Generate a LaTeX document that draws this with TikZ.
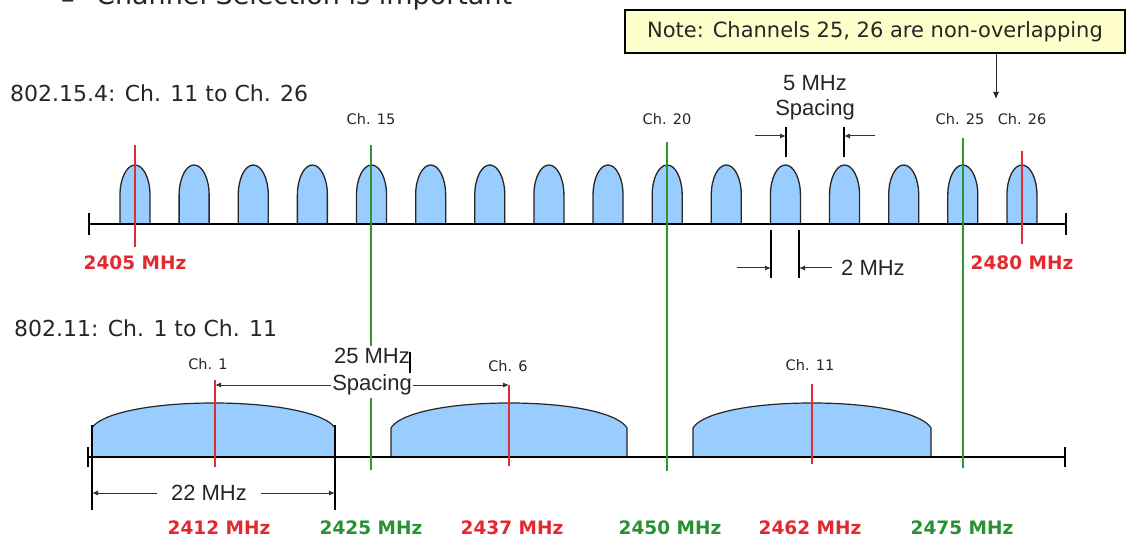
\documentclass[tikz,border=0pt]{standalone}
\usepackage{fontspec}
\setmainfont{DejaVu Sans}
\newfontfamily\libsans{Liberation Sans}
\usetikzlibrary{arrows.meta}
\definecolor{chred}{RGB}{222,45,55}
\definecolor{chgreen}{RGB}{45,150,50}
\definecolor{txred}{RGB}{228,40,48}
\definecolor{txgreen}{RGB}{40,145,50}
\definecolor{lobeblue}{RGB}{153,204,255}
\definecolor{notefill}{RGB}{255,255,204}
\begin{document}
\begin{tikzpicture}[x=1pt,y=-1pt,
  axisline/.style={line width=1.8pt,black},
  redline/.style={line width=1.8pt,chred},
  greenline/.style={line width=1.6pt,chgreen},
  bumpshape/.style={fill=lobeblue,draw=black!85,line width=1.3pt},
  lobeshape/.style={fill=lobeblue,draw=black!85,line width=1.2pt},
  dimline/.style={line width=1.3pt,black},
  dimarrow/.style={line width=1pt,black!80,-{Latex[length=6pt,width=5pt]}},
  dimboth/.style={line width=1pt,black!80,{Latex[length=6pt,width=5pt]}-{Latex[length=6pt,width=5pt]}},
  secttitle/.style={inner sep=0pt,anchor=west,text=black!85,font=\fontsize{22}{26}\selectfont},
  chlabel/.style={inner sep=0pt,text=black!85,font=\fontsize{14.5}{17}\selectfont},
  dimlabel/.style={inner sep=0pt,text=black!85,font=\libsans\fontsize{22}{27}\selectfont,align=center},
  mhzred/.style={inner sep=0pt,text=txred,font=\bfseries\fontsize{18.5}{22}\selectfont},
  mhzgreen/.style={inner sep=0pt,text=txgreen,font=\bfseries\fontsize{18.5}{22}\selectfont},
]
\useasboundingbox (0,0) rectangle (1133,540);
\fill[white] (0,0) rectangle (1133,540);

% cut-off heading
\node[anchor=base west,inner sep=0pt,text=black!85,font=\fontsize{27}{30}\selectfont] (dash) at (61,9) {\textendash};
\node[anchor=base west,inner sep=0pt,text=black!85,font=\fontsize{27}{30}\selectfont] (heading) at (96,5) {Channel Selection is important};

% section titles
\node[secttitle] (t154) at (10,93) {802.15.4: Ch. 11 to Ch. 26};
\node[secttitle] (t11) at (14,328) {802.11: Ch. 1 to Ch. 11};

% ---------- 802.15.4 ----------
\foreach \i in {0,...,15}{
  \pgfmathsetmacro\c{135+59.13*\i}
  \draw[bumpshape] ({\c-15},224) -- ({\c-15},195)
     .. controls ({\c-15},178.4) and ({\c-8.3},165) .. (\c,165)
     .. controls ({\c+8.3},165) and ({\c+15},178.4) .. ({\c+15},195)
     -- ({\c+15},224);
}
\coordinate (ta1) at (89,224);
\coordinate (ta2) at (1066,224);
\draw[axisline] (ta1) -- (ta2);
\draw[axisline] (89,213) -- (89,235);
\draw[axisline] (1066,213) -- (1066,235);

% ---------- 802.11 ----------
\foreach \l/\r in {92/335,391/627,693/931}{
  \pgfmathsetmacro\c{(\l+\r)/2}
  \draw[lobeshape] (\l,457) -- (\l,428)
     .. controls ({\l+8},414) and ({\c-65},403) .. (\c,403)
     .. controls ({\c+65},403) and ({\r-8},414) .. (\r,428)
     -- (\r,457);
}
\coordinate (ba1) at (88,457);
\coordinate (ba2) at (1065,457);
\draw[axisline] (ba1) -- (ba2);
\draw[axisline] (88,447) -- (88,467);
\draw[axisline] (1065,447) -- (1065,467);

% channel lines
\coordinate (c11t) at (135,145); \coordinate (c11b) at (135,247);
\coordinate (c26t) at (1022,151); \coordinate (c26b) at (1022,244);
\coordinate (c15t) at (371,145); \coordinate (c15b) at (371,470);
\coordinate (c20t) at (667,142); \coordinate (c20b) at (667,471);
\coordinate (c25t) at (963,138); \coordinate (c25b) at (963,468);
\coordinate (w1t) at (215,380); \coordinate (w1b) at (215,467);
\coordinate (w6t) at (509,385); \coordinate (w6b) at (509,466);
\coordinate (w11t) at (812,384); \coordinate (w11b) at (812,464);
\draw[redline] (c11t) -- (c11b);
\draw[redline] (c26t) -- (c26b);
\draw[greenline] (c15t) -- (c15b);
\draw[greenline] (c20t) -- (c20b);
\draw[greenline] (c25t) -- (c25b);
\draw[redline] (w1t) -- (w1b);
\draw[redline] (w6t) -- (w6b);
\draw[redline] (w11t) -- (w11b);

% channel labels
\node[chlabel] (l15) at (371,119) {Ch. 15};
\node[chlabel] (l20) at (667,119) {Ch. 20};
\node[chlabel] (l25) at (960,119) {Ch. 25};
\node[chlabel] (l26) at (1022,119) {Ch. 26};
\node[chlabel] (l1) at (208,364) {Ch. 1};
\node[chlabel] (l6) at (508,366) {Ch. 6};
\node[chlabel] (l11) at (810,365) {Ch. 11};

% frequency labels
\node[mhzred] (f2405) at (135,263) {2405 MHz};
\node[mhzred] (f2480) at (1022,263) {2480 MHz};
\node[mhzred] (f2412) at (219,528) {2412 MHz};
\node[mhzgreen] (f2425) at (371,528) {2425 MHz};
\node[mhzred] (f2437) at (512,528) {2437 MHz};
\node[mhzgreen] (f2450) at (670,528) {2450 MHz};
\node[mhzred] (f2462) at (810,528) {2462 MHz};
\node[mhzgreen] (f2475) at (962,528) {2475 MHz};

% 5 MHz spacing
\node[dimlabel] (s5a) at (815,83) {5 MHz};
\node[dimlabel] (s5b) at (815,110) {Spacing};
\coordinate (s5l) at (786,127); \coordinate (s5lb) at (786,157);
\coordinate (s5r) at (844,127); \coordinate (s5rb) at (844,157);
\draw[dimline] (s5l) -- (s5lb);
\draw[dimline] (s5r) -- (s5rb);
\coordinate (s5la) at (755,136); \coordinate (s5ra) at (875,136);
\draw[dimarrow] (s5la) -- (s5la -| s5l);
\draw[dimarrow] (s5ra) -- (s5ra -| s5r);

% 2 MHz width
\coordinate (w2l) at (771,230); \coordinate (w2lb) at (771,278);
\coordinate (w2r) at (799,230); \coordinate (w2rb) at (799,278);
\draw[dimline] (w2l) -- (w2lb);
\draw[dimline] (w2r) -- (w2rb);
\coordinate (w2la) at (737,268); \coordinate (w2ra) at (832,268);
\draw[dimarrow] (w2la) -- (w2la -| w2l);
\draw[dimarrow] (w2ra) -- (w2ra -| w2r);
\node[dimlabel,anchor=west] (w2txt) at (841,268) {2 MHz};

% 25 MHz spacing
\draw[dimboth] (215,385) -- (509,385);
\node[dimlabel,fill=white,inner xsep=1pt,inner ysep=3pt] (s25) at (372,372) {25 MHz\\Spacing};
\coordinate (barT) at (410,352); \coordinate (barB) at (410,373);
\draw[line width=1.3pt,black] (barT) -- (barB);

% 22 MHz width
\coordinate (d22l) at (92,425); \coordinate (d22lb) at (92,510);
\coordinate (d22r) at (335,425); \coordinate (d22rb) at (335,510);
\draw[dimline] (d22l) -- (d22lb);
\draw[dimline] (d22r) -- (d22rb);
\draw[dimboth] (92,493) -- (335,493);
\node[dimlabel,fill=white,inner xsep=14pt,inner ysep=2pt] (d22txt) at (209,493) {22 MHz};

% note box
\node[draw=black,line width=1.6pt,fill=notefill,minimum width=500pt,minimum height=43pt,inner sep=0pt,text=black!85,font=\fontsize{21}{24}\selectfont] (note) at (875,31.5) {Note: Channels 25, 26 are non-overlapping};
\coordinate (notetip) at (996,99);
\draw[line width=1pt,black!85,-{Latex[length=7pt,width=6pt]}] (note.south -| notetip) -- (notetip);
\end{tikzpicture}
\end{document}
